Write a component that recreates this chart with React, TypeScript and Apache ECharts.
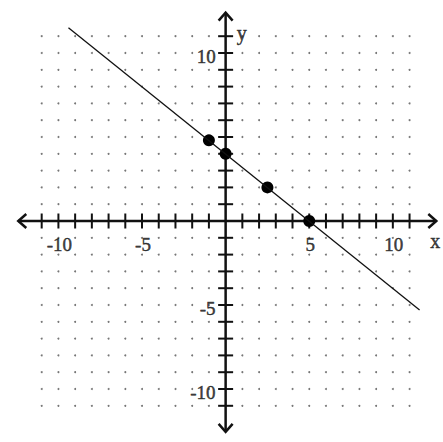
import React, { useEffect, useRef } from 'react';
import * as echarts from 'echarts';

// integer positions of the dotted grid and of the small axis ticks
const gridTicks = [-11, -10, -9, -8, -7, -6, -5, -4, -3, -2, -1, 1, 2, 3, 4, 5, 6, 7, 8, 9, 10, 11];
const xTickLabels = [-10, -5, 5, 10];
const yTickLabels = [10, -5, -10];
const xAxisEnds = [-12.4, 12.6];
const yAxisEnds = [-12.55, 12.4];
const lineEnds = [
    [-9.4, 11.5],
    [11.6, -5.3],
];
const plottedPoints = [
    [-1, 4.8],
    [0, 4],
    [2.5, 2],
    [5, 0],
];
const axisTitles = [
    { name: 'x', value: [12.3, 0] },
    { name: 'y', value: [0, 11.2] },
];

const FONT = 'Liberation Serif';
const INK = '#111';

const textStyle = {
    fontFamily: FONT,
    fontSize: 19,
    color: '#111',
    textBorderWidth: 0.5,
    textBorderColor: '#111',
};

function buildOption(): echarts.EChartsOption {
    const dots: number[][] = [];
    for (const gx of gridTicks) {
        for (const gy of gridTicks) dots.push([gx, gy]);
    }

    return {
        animation: false,
        backgroundColor: '#fff',
        grid: { left: 8.25, top: 2.6, width: 435.5, height: 436.8 },
        xAxis: {
            type: 'value',
            min: -13,
            max: 13,
            axisLine: { show: false },
            axisTick: { show: false },
            axisLabel: { show: false },
            splitLine: { show: false },
        },
        yAxis: {
            type: 'value',
            min: -13,
            max: 13,
            axisLine: { show: false },
            axisTick: { show: false },
            axisLabel: { show: false },
            splitLine: { show: false },
        },
        series: [
            {
                type: 'scatter',
                data: dots,
                symbolSize: 2,
                itemStyle: { color: '#555' },
                silent: true,
            },
            {
                // the two axes, with open arrow heads
                type: 'custom',
                data: [[0]],
                silent: true,
                renderItem: (params: any, api: any) => {
                    const l = api.coord([xAxisEnds[0], 0]);
                    const r = api.coord([xAxisEnds[1], 0]);
                    const t = api.coord([0, yAxisEnds[1]]);
                    const b = api.coord([0, yAxisEnds[0]]);
                    const st = { stroke: INK, lineWidth: 2.5, fill: 'none' };
                    const arm = 8;
                    const w = 7;
                    return {
                        type: 'group',
                        children: [
                            { type: 'line', shape: { x1: l[0], y1: l[1], x2: r[0], y2: r[1] }, style: st },
                            { type: 'line', shape: { x1: t[0], y1: t[1], x2: b[0], y2: b[1] }, style: st },
                            { type: 'polyline', shape: { points: [[l[0] + arm, l[1] - w], l, [l[0] + arm, l[1] + w]] }, style: st },
                            { type: 'polyline', shape: { points: [[r[0] - arm, r[1] - w], r, [r[0] - arm, r[1] + w]] }, style: st },
                            { type: 'polyline', shape: { points: [[t[0] - w, t[1] + arm], t, [t[0] + w, t[1] + arm]] }, style: st },
                            { type: 'polyline', shape: { points: [[b[0] - w, b[1] - arm], b, [b[0] + w, b[1] - arm]] }, style: st },
                        ],
                    };
                },
            },
            {
                // ticks crossing both axes
                type: 'custom',
                data: gridTicks.map((v) => [v]),
                silent: true,
                renderItem: (params: any, api: any) => {
                    const v = api.value(0);
                    const px = api.coord([v, 0]);
                    const py = api.coord([0, v]);
                    const half = 7.5;
                    const st = { stroke: INK, lineWidth: 2 };
                    return {
                        type: 'group',
                        children: [
                            { type: 'line', shape: { x1: px[0], y1: px[1] - half, x2: px[0], y2: px[1] + half }, style: st },
                            { type: 'line', shape: { x1: py[0] - half, y1: py[1], x2: py[0] + half, y2: py[1] }, style: st },
                        ],
                    };
                },
            },
            {
                type: 'line',
                data: lineEnds,
                symbol: 'none',
                lineStyle: { color: INK, width: 1.3 },
                silent: true,
            },
            {
                type: 'scatter',
                data: plottedPoints,
                symbolSize: 12,
                itemStyle: { color: '#000', opacity: 1 },
                silent: true,
            },
            {
                type: 'scatter',
                data: xTickLabels.map((v) => [v, 0]),
                symbolSize: 1,
                itemStyle: { color: 'transparent' },
                silent: true,
                label: {
                    show: true,
                    position: 'inside',
                    offset: [1, 23],
                    formatter: (p: any) => String(p.value[0]),
                    ...textStyle,
                },
            },
            {
                type: 'scatter',
                data: yTickLabels.map((v) => [0, v]),
                symbolSize: 1,
                itemStyle: { color: 'transparent' },
                silent: true,
                label: {
                    show: true,
                    position: 'inside',
                    align: 'right',
                    offset: [-10, 3],
                    formatter: (p: any) => String(p.value[1]),
                    ...textStyle,
                },
            },
            {
                type: 'scatter',
                data: axisTitles,
                symbolSize: 1,
                itemStyle: { color: 'transparent' },
                silent: true,
                label: {
                    show: true,
                    position: 'inside',
                    formatter: (p: any) => p.name,
                    ...textStyle,
                    fontSize: 20,
                },
                labelLayout: (p: any) =>
                    p.dataIndex === 0 ? { dx: 4, dy: 20 } : { dx: 16, dy: 0 },
            },
        ],
    };
}

export default function App() {
    const chartRef = useRef<HTMLDivElement>(null);

    useEffect(() => {
        document.body.style.margin = '0';
        if (chartRef.current === null) return;
        const chart = echarts.init(chartRef.current, undefined, { renderer: 'svg' });
        chart.setOption(buildOption());
        return () => {
            chart.dispose();
        };
    }, []);

    return <div ref={chartRef} style={{ width: 443, height: 442 }} />;
}
